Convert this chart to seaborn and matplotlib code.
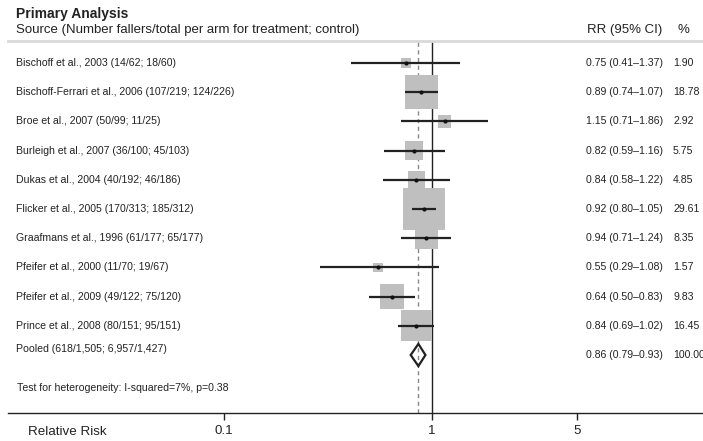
import numpy as np
import pandas as pd
import matplotlib
matplotlib.use('Agg')
import matplotlib.pyplot as plt
import matplotlib.transforms as mtransforms
from matplotlib.patches import Polygon
from matplotlib.ticker import NullLocator, FixedLocator, FixedFormatter
import seaborn as sns

# data
studies = ['Bischoff et al., 2003 (14/62; 18/60)',
           'Bischoff-Ferrari et al., 2006 (107/219; 124/226)',
           'Broe et al., 2007 (50/99; 11/25)',
           'Burleigh et al., 2007 (36/100; 45/103)',
           'Dukas et al., 2004 (40/192; 46/186)',
           'Flicker et al., 2005 (170/313; 185/312)',
           'Graafmans et al., 1996 (61/177; 65/177)',
           'Pfeifer et al., 2000 (11/70; 19/67)',
           'Pfeifer et al., 2009 (49/122; 75/120)',
           'Prince et al., 2008 (80/151; 95/151)']
rr = [0.75, 0.89, 1.15, 0.82, 0.84, 0.92, 0.94, 0.55, 0.64, 0.84]
ci_lo = [0.41, 0.74, 0.71, 0.59, 0.58, 0.80, 0.71, 0.29, 0.50, 0.69]
ci_hi = [1.37, 1.07, 1.86, 1.16, 1.22, 1.05, 1.24, 1.08, 0.83, 1.02]
weights = [1.90, 18.78, 2.92, 5.75, 4.85, 29.61, 8.35, 1.57, 9.83, 16.45]

pooled_label = 'Pooled (618/1,505; 6,957/1,427)'
pooled_rr = 0.86
pooled_lo = 0.79
pooled_hi = 0.93
pooled_weight = '100.00'
heterogeneity = 'Test for heterogeneity: I-squared=7%, p=0.38'

xticks = [0.1, 1, 5]
xtick_labels = ['0.1', '1', '5']

sns.set_style('white')
plt.rcParams['font.family'] = ['Liberation Sans', 'DejaVu Sans']

W, H = 703, 441
fig = plt.figure(figsize=(W / 100, H / 100), dpi=100)

def fx(x):
    return x / W

def fy(y):
    return 1 - y / H

# axes spans pixel x 8..703, y 41..413 ; 208 px per decade, x=1 at pixel 432
ax = fig.add_axes([fx(8), fy(413), fx(703 - 8), (413 - 41) / H])
ax.set_xscale('log')
ax.set_xlim(10 ** ((8 - 432) / 208), 10 ** ((703 - 432) / 208))
ax.set_ylim((413 - 63) / 29.2, (41 - 63) / 29.2)

df = pd.DataFrame({'study': studies, 'rr': rr, 'lo': ci_lo, 'hi': ci_hi, 'w': weights})
df['row'] = np.arange(len(df))
pooled_row = len(df)

# reference lines
ax.axvline(1, color='#222222', lw=1.0, zorder=1)
ax.axvline(pooled_rr, color='#888888', lw=1.0, ls=(0, (3, 2.5)), zorder=1)

# weight squares (area ~ weight)
side_pt = 7.72 * np.sqrt(df['w']) * 0.72
sns.scatterplot(data=df, x='rr', y='row', marker='s', s=side_pt ** 2,
                color='#bfbfbf', linewidth=0, ax=ax, zorder=2, legend=False)
ax.hlines(df['row'], df['lo'], df['hi'], color='#222222', lw=1.6, zorder=3)
sns.scatterplot(data=df, x='rr', y='row', marker='o', s=9,
                color='#111111', linewidth=0, ax=ax, zorder=4, legend=False)

# pooled diamond
h = 0.38
diamond = Polygon([(pooled_lo, pooled_row), (pooled_rr, pooled_row - h),
                   (pooled_hi, pooled_row), (pooled_rr, pooled_row + h)],
                  closed=True, facecolor='none', edgecolor='#222222', lw=1.6, zorder=5)
ax.add_patch(diamond)

# spines / ticks
for s in ['left', 'right']:
    ax.spines[s].set_visible(False)
ax.spines['top'].set_color('#d9d9d9')
ax.spines['top'].set_linewidth(2)
ax.spines['bottom'].set_color('#222222')
ax.spines['bottom'].set_linewidth(1.0)
ax.xaxis.set_major_locator(FixedLocator(xticks))
ax.xaxis.set_major_formatter(FixedFormatter(xtick_labels))
ax.xaxis.set_minor_locator(NullLocator())
ax.set_yticks([])
ax.tick_params(axis='x', direction='out', length=5, width=1, color='#222222',
               labelsize=9.6, pad=4, labelcolor='#222222', bottom=True)
ax.set_xlabel('')
ax.set_ylabel('')

# text columns
tc = '#222222'
fs = 7.6
trans = mtransforms.blended_transform_factory(fig.transFigure, ax.transData)
for i, r in df.iterrows():
    ax.text(fx(16), r['row'], r['study'], transform=trans, fontsize=fs,
            va='center', ha='left', color=tc)
    ax.text(fx(586), r['row'], '%.2f (%.2f\u2013%.2f)' % (r['rr'], r['lo'], r['hi']),
            transform=trans, fontsize=fs, va='center', ha='left', color=tc)
    ax.text(fx(673), r['row'], '%.2f' % r['w'], transform=trans, fontsize=fs,
            va='center', ha='left', color=tc)

ax.text(fx(16), pooled_row - 0.22, pooled_label, transform=trans, fontsize=fs,
        va='center', ha='left', color=tc)
ax.text(fx(586), pooled_row, '%.2f (%.2f\u2013%.2f)' % (pooled_rr, pooled_lo, pooled_hi),
        transform=trans, fontsize=fs, va='center', ha='left', color=tc)
ax.text(fx(673), pooled_row, pooled_weight, transform=trans, fontsize=fs,
        va='center', ha='left', color=tc)
ax.text(fx(17), 11.13, heterogeneity, transform=trans, fontsize=fs,
        va='center', ha='left', color=tc)

# header
fig.text(fx(16), fy(14), 'Primary Analysis', fontsize=10, fontweight='bold',
         va='center', ha='left', color=tc)
fig.text(fx(16), fy(30), 'Source (Number fallers/total per arm for treatment; control)',
         fontsize=9.5, va='center', ha='left', color=tc)
fig.text(fx(587), fy(30), 'RR (95% CI)', fontsize=9.5, va='center', ha='left', color=tc)
fig.text(fx(678), fy(30), '%', fontsize=9.5, va='center', ha='left', color=tc)
fig.text(fx(28), fy(432), 'Relative Risk', fontsize=9.6, va='center', ha='left', color=tc)

fig.savefig('out.png', dpi=100)
